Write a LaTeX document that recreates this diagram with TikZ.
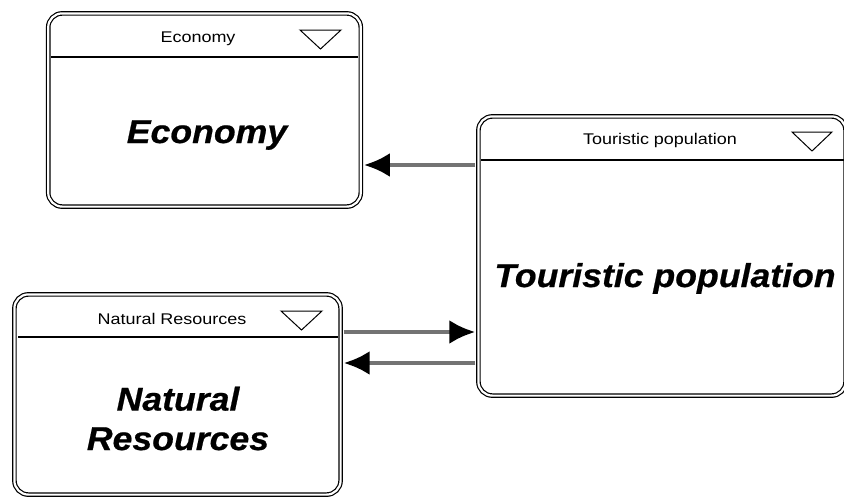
\documentclass[tikz,border=0pt]{standalone}
\usepackage{fontspec}
\setmainfont{Liberation Sans}
\newfontfamily\hdrfont[FakeStretch=1.16]{Liberation Sans}
\newfontfamily\bigfont[FakeStretch=1.08,FakeBold=0.6]{Liberation Sans}
\usetikzlibrary{arrows.meta}
\begin{document}
\begin{tikzpicture}[x=1pt,y=-1pt,
  box/.style={draw=black, line width=1.2pt, double=white, double distance=2.2pt,
    rounded corners=14pt, inner sep=0pt, minimum width=#1},
  hdr/.style={font=\hdrfont\fontsize{15.5}{18}\selectfont, inner sep=0pt, anchor=base},
  big/.style={font=\bigfont\fontsize{33}{40}\selectfont\bfseries\itshape, inner sep=0pt, anchor=base, align=center},
  hline/.style={draw=black, line width=1.2pt},
  tri/.style={draw=black, line width=1pt},
  conn/.style={draw=black!55, line width=4.5pt, shorten <=2.4pt, shorten >=2.4pt,
    -{Latex[length=26pt,width=24pt,fill=black,color=black]}}
]
\useasboundingbox (0,0) rectangle (844,498);
% boxes
\node[box=312.6pt, minimum height=193.2pt] (eco) at (204.5,110) {};
\node[box=367.2pt, minimum height=279.2pt] (tp) at (662,256) {};
\node[box=326.2pt, minimum height=200.2pt] (nr) at (177.5,394.5) {};
% header lines
\draw[hline] (51,57) -- (358,57);
\draw[hline] (481,160) -- (846,160);
\draw[hline] (18,337) -- (338,337);
% triangles
\draw[tri] (300,30) -- (341,30) -- (320.5,49) -- cycle;
\draw[tri] (792,132) -- (832,132) -- (812,151) -- cycle;
\draw[tri] (281,311) -- (322,311) -- (301.5,330) -- cycle;
% header texts
\node[hdr] (ecoh) at (198,42) {Economy};
\node[hdr] (tph) at (660,144) {Touristic population};
\node[hdr] (nrh) at (172,324) {Natural Resources};
% main texts
\node[big] (ecot) at (207,143) {Economy};
\node[big] (tpt) at (665,287) {Touristic population};
\node[big] (nrt) at (178,450) {Natural\\[-0.6pt]Resources};
% connectors
\coordinate (c1) at (0,165);
\coordinate (c2) at (0,332);
\coordinate (c3) at (0,363);
\draw[conn] (tp.west |- c1) -- (eco.east |- c1);
\draw[conn] (nr.east |- c2) -- (tp.west |- c2);
\draw[conn] (tp.west |- c3) -- (nr.east |- c3);
\end{tikzpicture}
\end{document}
